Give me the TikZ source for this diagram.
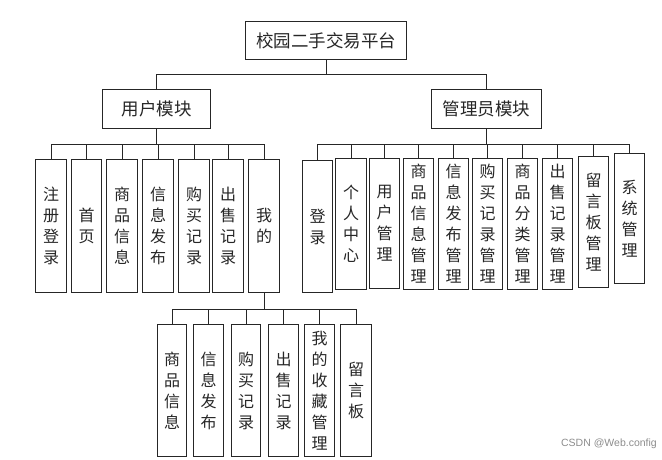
\documentclass[tikz,border=0pt]{standalone}
\usepackage{fontspec}
\newfontfamily\cjk{Noto Sans CJK SC}
\newfontfamily\wmfont{Liberation Sans}
\begin{document}
\begin{tikzpicture}[x=1pt,y=-1pt,
  box/.style={draw=black!85, line width=1pt, inner sep=0pt, anchor=north west, text=black!85},
  hbox/.style={box, font=\cjk\fontsize{17.5}{20}\selectfont},
  vbox/.style={box, align=center, font=\cjk\fontsize{16}{21}\selectfont},
  link/.style={draw=black!85, line width=1pt}]
\useasboundingbox (0,0) rectangle (662,459);
% top
\node[hbox, minimum width=161, minimum height=38] (root) at (245,21) {校园二手交易平台};
\node[hbox, minimum width=108, minimum height=39] (um) at (102,89) {用户模块};
\node[hbox, minimum width=110, minimum height=39] (am) at (431,89) {管理员模块};
\coordinate (b0) at (0,74);
\coordinate (b1) at (0,144);
\coordinate (b2) at (0,309);
% user children
\node[vbox, minimum width=31, minimum height=133] (u1) at (35,159) {注\\册\\登\\录};
\node[vbox, minimum width=30, minimum height=133] (u2) at (71,159) {首\\页};
\node[vbox, minimum width=31, minimum height=133] (u3) at (106,159) {商\\品\\信\\息};
\node[vbox, minimum width=31, minimum height=133] (u4) at (142,159) {信\\息\\发\\布};
\node[vbox, minimum width=31, minimum height=133] (u5) at (178,159) {购\\买\\记\\录};
\node[vbox, minimum width=31, minimum height=133] (u6) at (212,159) {出\\售\\记\\录};
\node[vbox, minimum width=31, minimum height=133] (u7) at (248,159) {我\\的};
% my children
\node[vbox, minimum width=29, minimum height=132] (m1) at (157,324) {商\\品\\信\\息};
\node[vbox, minimum width=30, minimum height=132] (m2) at (193,324) {信\\息\\发\\布};
\node[vbox, minimum width=29, minimum height=132] (m3) at (231,324) {购\\买\\记\\录};
\node[vbox, minimum width=30, minimum height=132] (m4) at (268,324) {出\\售\\记\\录};
\node[vbox, minimum width=30, minimum height=132] (m5) at (304,324) {我\\的\\收\\藏\\管\\理};
\node[vbox, minimum width=31, minimum height=132] (m6) at (340,324) {留\\言\\板};
% admin children
\node[vbox, minimum width=30, minimum height=132] (a1) at (302,160) {登\\录};
\node[vbox, minimum width=31, minimum height=131] (a2) at (335,158) {个\\人\\中\\心};
\node[vbox, minimum width=30, minimum height=130] (a3) at (369,158) {用\\户\\管\\理};
\node[vbox, minimum width=30, minimum height=131] (a4) at (403,158) {商\\品\\信\\息\\管\\理};
\node[vbox, minimum width=30, minimum height=131] (a5) at (438,158) {信\\息\\发\\布\\管\\理};
\node[vbox, minimum width=30, minimum height=131] (a6) at (472,158) {购\\买\\记\\录\\管\\理};
\node[vbox, minimum width=30, minimum height=131] (a7) at (507,158) {商\\品\\分\\类\\管\\理};
\node[vbox, minimum width=30, minimum height=131] (a8) at (542,158) {出\\售\\记\\录\\管\\理};
\node[vbox, minimum width=30, minimum height=131] (a9) at (578,156) {留\\言\\板\\管\\理};
\node[vbox, minimum width=30, minimum height=130] (a10) at (614,153) {系\\统\\管\\理};
% connectors
\draw[link] (root.south) -- (root.south |- b0);
\draw[link] (um.north) |- (am.north |- b0) -- (am.north);
\draw[link] (um.south) -- (um.south |- b1);
\draw[link] (u1.north) |- (u7.north |- b1) -- (u7.north);
\foreach \n in {u2,u3,u4,u5,u6} \draw[link] (\n.north) -- (\n.north |- b1);
\draw[link] (am.south) -- (am.south |- b1);
\draw[link] (a1.north) |- (a10.north |- b1) -- (a10.north);
\foreach \n in {a2,a3,a4,a5,a6,a7,a8,a9} \draw[link] (\n.north) -- (\n.north |- b1);
\draw[link] (u7.south) -- (u7.south |- b2);
\draw[link] (m1.north) |- (m6.north |- b2) -- (m6.north);
\foreach \n in {m2,m3,m4,m5} \draw[link] (\n.north) -- (\n.north |- b2);
% watermark
\node[anchor=east, font=\wmfont\fontsize{10.5}{12}\selectfont, text=black!45, inner sep=0pt] (wm) at (657,444) {CSDN @Web.config};
\end{tikzpicture}
\end{document}
